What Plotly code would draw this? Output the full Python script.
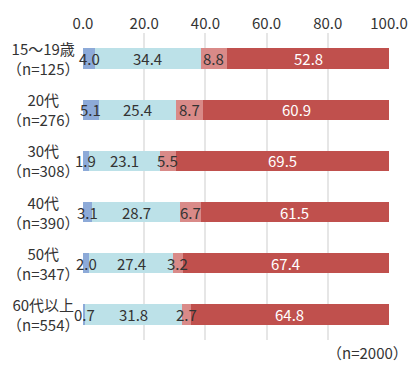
import plotly.graph_objects as go

categories = ["15～19歳", "20代", "30代", "40代", "50代", "60代以上"]
sample_sizes = [125, 276, 308, 390, 347, 554]
s1 = [4.0, 5.1, 1.9, 3.1, 2.0, 0.7]
s2 = [34.4, 25.4, 23.1, 28.7, 27.4, 31.8]
s3 = [8.8, 8.7, 5.5, 6.7, 3.2, 2.7]
s4 = [52.8, 60.9, 69.5, 61.5, 67.4, 64.8]
tick_vals = [0, 20, 40, 60, 80, 100]
total_n = 2000

colors = ["#8DAAD8", "#BCE1E8", "#D98A88", "#C0504D"]
text_colors = ["#333333", "#333333", "#333333", "#FFFFFF"]
font_family = "Noto Sans CJK JP"

fig = go.Figure()
annotations = []
series = [s1, s2, s3, s4]
cum = [0.0] * len(categories)
for vals, c, tc in zip(series, colors, text_colors):
    fig.add_trace(go.Bar(
        y=categories, x=vals, orientation="h",
        marker=dict(color=c, line=dict(width=0)),
        hoverinfo="skip",
    ))
    for i, v in enumerate(vals):
        annotations.append(dict(
            x=cum[i] + v / 2, y=categories[i], xref="x", yref="y",
            text=f"{v:.1f}", showarrow=False, xanchor="center", yanchor="middle",
            font=dict(size=15, color=tc, family=font_family)))
        cum[i] += v

for cat, n in zip(categories, sample_sizes):
    annotations.append(dict(
        x=-0.13, y=cat, xref="paper", yref="y",
        text=f"{cat}<br>（n={n}）", showarrow=False, align="center",
        xanchor="center", yanchor="middle",
        font=dict(size=15, color="#333333", family=font_family)))

annotations.append(dict(text=f"（n={total_n}）", xref="paper", yref="paper",
                        x=1.07, y=-0.04, xanchor="right", yanchor="middle",
                        showarrow=False,
                        font=dict(size=15, color="#333333", family=font_family)))

fig.update_layout(
    width=420, height=365, autosize=False, barmode="stack", bargap=0.6,
    showlegend=False,
    margin=dict(l=83, r=22, t=26, b=25),
    paper_bgcolor="white", plot_bgcolor="white",
    font=dict(family=font_family, color="#333333", size=15),
    xaxis=dict(side="top", range=[0, 100], tickvals=tick_vals,
               ticktext=[f"{v:.1f}" for v in tick_vals],
               showgrid=True, gridcolor="#E6E6E6", gridwidth=2,
               zeroline=False, showline=False, ticks="",
               tickfont=dict(size=15, color="#333333")),
    yaxis=dict(autorange="reversed", showgrid=False, zeroline=False,
               ticks="", showticklabels=False),
    annotations=annotations,
)
fig.write_html("out.html",
               post_script="document.body.style.margin='0';document.body.style.padding='0';")
